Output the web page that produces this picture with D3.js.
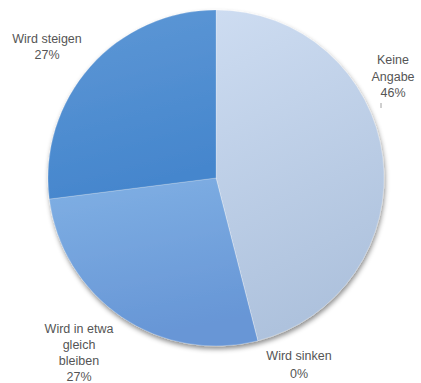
<!DOCTYPE html>
<html>
<head>
<meta charset="utf-8">
<script src="https://cdn.jsdelivr.net/npm/d3@7"></script>
<style>
  html, body { margin: 0; padding: 0; background: #fff; }
  svg { display: block; }
  text { font-family: "Liberation Sans", Arial, sans-serif; font-size: 12.5px; fill: #555; }
</style>
</head>
<body>
<svg id="chart" width="421" height="383"></svg>
<script>
// Survey answers, in clockwise order from 12 o'clock
const categories = ["Keine Angabe", "Wird sinken", "Wird in etwa gleich bleiben", "Wird steigen"];
const values = [46, 0, 27, 27];
const labelLines = [
  ["Keine", "Angabe", "46%"],
  ["Wird sinken", "0%"],
  ["Wird in etwa", "gleich", "bleiben", "27%"],
  ["Wird steigen", "27%"]
];

// Slice fills: light top colour, darker bottom colour
const fillTop = ["#cddcf1", "#b7c9e2", "#80b0e4", "#5f98d6"];
const fillBottom = ["#aec2dd", "#aec2dd", "#6796d6", "#4586cd"];

// Label anchors (centre of the text block, first baseline) relative to pie centre
const labelAnchor = [
  [177, -114],
  [83, 182],
  [-137, 155],
  [-169, -135]
];
const lineH = [16.5, 17.5, 16, 16];

const width = 421, height = 383;
const cx = 216, cy = 178, radius = 168;

const svg = d3.select("#chart");
const defs = svg.append("defs");

const shadow = defs.append("filter").attr("id", "pie-shadow")
  .attr("x", "-20%").attr("y", "-20%").attr("width", "140%").attr("height", "140%");
shadow.append("feDropShadow")
  .attr("dx", 1).attr("dy", 3).attr("stdDeviation", 2.5)
  .attr("flood-color", "#000").attr("flood-opacity", 0.45);

categories.forEach((c, i) => {
  const g = defs.append("linearGradient").attr("id", "grad" + i)
    .attr("x1", 0).attr("y1", 0).attr("x2", 0.25).attr("y2", 1);
  g.append("stop").attr("offset", "0%").attr("stop-color", fillTop[i]);
  g.append("stop").attr("offset", "100%").attr("stop-color", fillBottom[i]);
});

const pie = d3.pie().sort(null).value(d => d)
  .startAngle(0).endAngle(2 * Math.PI);
const arcs = pie(values);
const arc = d3.arc().innerRadius(0).outerRadius(radius);

const g = svg.append("g").attr("transform", `translate(${cx},${cy})`);

g.append("g").attr("filter", "url(#pie-shadow)")
  .selectAll("path")
  .data(arcs)
  .join("path")
  .attr("d", arc)
  .attr("fill", (d, i) => `url(#grad${i})`)
  .attr("stroke", "rgba(255,255,255,0.35)")
  .attr("stroke-width", 0.6);

// short leader under the "Keine Angabe" label
g.append("line")
  .attr("x1", labelAnchor[0][0] - 12).attr("x2", labelAnchor[0][0] - 12)
  .attr("y1", labelAnchor[0][1] + 2 * lineH[0] + 6)
  .attr("y2", labelAnchor[0][1] + 2 * lineH[0] + 11)
  .attr("stroke", "#888").attr("stroke-width", 0.8);

const labels = g.append("g")
  .selectAll("text")
  .data(arcs)
  .join("text")
  .attr("text-anchor", "middle")
  .attr("transform", (d, i) => `translate(${labelAnchor[i][0]},${labelAnchor[i][1]})`);

labels.each(function(d, i) {
  d3.select(this).selectAll("tspan")
    .data(labelLines[i])
    .join("tspan")
    .attr("x", 0)
    .attr("dy", (t, j) => j === 0 ? 0 : lineH[i])
    .text(t => t);
});
</script>
</body>
</html>
